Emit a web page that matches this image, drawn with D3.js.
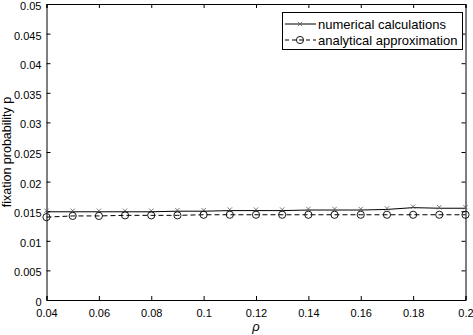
<!DOCTYPE html>
<html>
<head>
<meta charset="utf-8">
<script src="https://cdn.jsdelivr.net/npm/d3@7"></script>
<style>
  body { margin: 0; background: #fff; }
  svg { font-family: Arial, "Liberation Sans", Helvetica, sans-serif; }
</style>
</head>
<body>
<div id="chart"></div>
<script>
// data
let rho = [0.04, 0.05, 0.06, 0.07, 0.08, 0.09, 0.10, 0.11, 0.12, 0.13, 0.14, 0.15, 0.16, 0.17, 0.18, 0.19, 0.20];
let numerical = [0.0149, 0.0149, 0.0149, 0.0149, 0.0149, 0.0150, 0.0150, 0.0151, 0.0151, 0.0151, 0.0152, 0.0152, 0.0152, 0.0153, 0.0156, 0.0155, 0.0155];
let analytical = [0.0140, 0.0142, 0.0142, 0.0143, 0.0143, 0.0143, 0.0144, 0.0144, 0.0144, 0.0144, 0.0144, 0.0144, 0.0144, 0.0144, 0.0144, 0.0144, 0.0144];
let xTicks = [0.04, 0.06, 0.08, 0.1, 0.12, 0.14, 0.16, 0.18, 0.2];
let yTicks = [0, 0.005, 0.01, 0.015, 0.02, 0.025, 0.03, 0.035, 0.04, 0.045, 0.05];
let legendLabels = ['numerical calculations', 'analytical approximation'];

let width = 473, height = 335;
let margin = {top: 4, right: 7.5, bottom: 35, left: 46.5};

let svg = d3.select('#chart').append('svg')
  .attr('width', width).attr('height', height);

let x = d3.scaleLinear().domain([0.04, 0.2]).range([margin.left, width - margin.right]);
let y = d3.scaleLinear().domain([0, 0.05]).range([height - margin.bottom, margin.top]);

// axes, MATLAB style ticks pointing inward on all four sides
let fmt = d => String(+d.toFixed(3));
let xAxis = svg.append('g').attr('transform', 'translate(0,' + y(0) + ')')
  .call(d3.axisBottom(x).tickValues(xTicks).tickSize(-4).tickPadding(9).tickFormat(fmt));
let xTop = svg.append('g').attr('transform', 'translate(0,' + y(0.05) + ')')
  .call(d3.axisTop(x).tickValues(xTicks).tickSize(-4).tickFormat(''));
let yAxis = svg.append('g').attr('transform', 'translate(' + x(0.04) + ',0)')
  .call(d3.axisLeft(y).tickValues(yTicks).tickSize(-4).tickPadding(5).tickFormat(fmt));
let yRight = svg.append('g').attr('transform', 'translate(' + x(0.2) + ',0)')
  .call(d3.axisRight(y).tickValues(yTicks).tickSize(-4).tickFormat(''));

[xAxis, xTop, yAxis, yRight].forEach(function(g){
  g.selectAll('path').attr('stroke', '#000').attr('stroke-width', 1);
  g.selectAll('line').attr('stroke', '#000');
  g.selectAll('text').attr('fill', '#000').style('font-size', '11px');
});
yAxis.selectAll('text').attr('dy', '0.5em');

// axis labels
svg.append('text')
  .attr('x', (x(0.04) + x(0.2)) / 2).attr('y', 331)
  .attr('text-anchor', 'middle')
  .style('font-size', '13px').style('font-style', 'italic')
  .text('ρ');
svg.append('text')
  .attr('transform', 'translate(11,' + y(0.025) + ') rotate(-90)')
  .attr('text-anchor', 'middle')
  .style('font-size', '12.5px')
  .text('fixation probability p');

// lines
let line = d3.line().x(d => x(d[0])).y(d => y(d[1]));
let numData = rho.map((r, i) => [r, numerical[i]]);
let anaData = rho.map((r, i) => [r, analytical[i]]);

svg.append('path').datum(numData)
  .attr('d', line).attr('fill', 'none').attr('stroke', '#000').attr('stroke-width', 1);
svg.append('path').datum(anaData)
  .attr('d', line).attr('fill', 'none').attr('stroke', '#000').attr('stroke-width', 1)
  .attr('stroke-dasharray', '5,3');

function cross(g, cx, cy){
  let s = 2.2;
  g.append('path')
    .attr('d', 'M' + (cx - s) + ',' + (cy - s) + 'L' + (cx + s) + ',' + (cy + s) +
               'M' + (cx - s) + ',' + (cy + s) + 'L' + (cx + s) + ',' + (cy - s))
    .attr('stroke', '#555').attr('stroke-width', 0.8).attr('fill', 'none');
}
function circ(g, cx, cy){
  g.append('circle').attr('cx', cx).attr('cy', cy).attr('r', 3.6)
    .attr('fill', 'none').attr('stroke', '#000').attr('stroke-width', 0.9);
}

let marks = svg.append('g');
numData.forEach(d => cross(marks, x(d[0]), y(d[1]) - 1));
anaData.forEach(d => circ(marks, x(d[0]), y(d[1])));

// legend
let lg = svg.append('g');
lg.append('rect').attr('x', 282.5).attr('y', 12.5).attr('width', 180).attr('height', 37)
  .attr('fill', '#fff').attr('stroke', '#000').attr('stroke-width', 1);
lg.append('line').attr('x1', 285).attr('x2', 316).attr('y1', 24).attr('y2', 24)
  .attr('stroke', '#000');
cross(lg, 300, 24);
lg.append('line').attr('x1', 285).attr('x2', 316).attr('y1', 40).attr('y2', 40)
  .attr('stroke', '#000').attr('stroke-dasharray', '4,3');
circ(lg, 300, 40);
legendLabels.forEach(function(t, i){
  lg.append('text').attr('x', 318).attr('y', 28.5 + i * 16)
    .style('font-size', '13px').text(t);
});
</script>
</body>
</html>
